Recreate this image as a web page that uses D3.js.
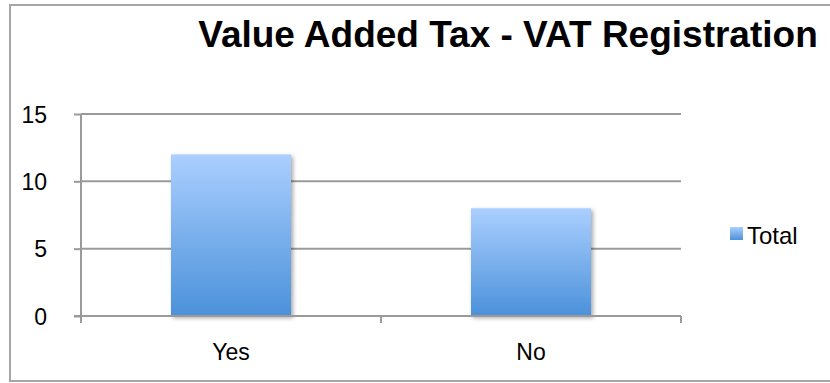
<!DOCTYPE html>
<html>
<head>
<meta charset="utf-8">
<script src="https://cdn.jsdelivr.net/npm/d3@7"></script>
<style>
  html, body { margin: 0; padding: 0; background: #fff; }
  svg text { font-family: "Liberation Sans", Arial, sans-serif; fill: #000; }
</style>
</head>
<body>
<svg id="chart" width="830" height="383"></svg>
<script>
// Data
const categories = ["Yes", "No"];
const totals = [12, 8];
const yTicks = [0, 5, 10, 15];
const seriesName = "Total";
const titleText = "Value Added Tax - VAT Registration";

const svg = d3.select("#chart");
const plot = { left: 81, right: 681, top: 114, bottom: 316 };
const labelSize = 23;

// Outer frame
svg.append("rect")
  .attr("x", 10).attr("y", 5)
  .attr("width", 830).attr("height", 376)
  .attr("fill", "#fff")
  .attr("stroke", "#a6a6a6").attr("stroke-width", 2);

const defs = svg.append("defs");
const grad = defs.append("linearGradient")
  .attr("id", "barGrad").attr("x1", 0).attr("y1", 0).attr("x2", 0).attr("y2", 1);
grad.append("stop").attr("offset", "0%").attr("stop-color", "#abcfff");
grad.append("stop").attr("offset", "100%").attr("stop-color", "#4b91da");

const shadow = defs.append("filter").attr("id", "barShadow")
  .attr("x", "-10%").attr("y", "-10%").attr("width", "130%").attr("height", "130%");
shadow.append("feDropShadow")
  .attr("dx", 2).attr("dy", 2).attr("stdDeviation", 2)
  .attr("flood-color", "#000").attr("flood-opacity", 0.35);

const x = d3.scaleBand().domain(categories).range([plot.left, plot.right])
  .paddingInner(0.6).paddingOuter(0.3);
const y = d3.scaleLinear().domain([0, 15]).range([plot.bottom, plot.top]);

// Gridlines
svg.append("g").selectAll("line").data(yTicks.filter(d => d > 0)).join("line")
  .attr("x1", plot.left).attr("x2", plot.right)
  .attr("y1", d => y(d)).attr("y2", d => y(d))
  .attr("stroke", "#9a9a9a").attr("stroke-width", 2);

// Bars
svg.append("g").selectAll("rect").data(categories).join("rect")
  .attr("x", d => x(d))
  .attr("y", (d, i) => y(totals[i]))
  .attr("width", x.bandwidth())
  .attr("height", (d, i) => y(0) - y(totals[i]))
  .attr("fill", "url(#barGrad)")
  .attr("filter", "url(#barShadow)");

// Y axis
const yAxis = svg.append("g").attr("transform", `translate(${plot.left},0)`)
  .call(d3.axisLeft(y).tickValues(yTicks).tickSize(7).tickPadding(27).tickFormat(d3.format("d")));
yAxis.select(".domain").attr("stroke", "#9a9a9a").attr("stroke-width", 2)
  .attr("d", `M0,${plot.top}V${plot.bottom + 6}`);
yAxis.selectAll(".tick line").attr("stroke", "#9a9a9a").attr("stroke-width", 2);
yAxis.selectAll(".tick text")
  .attr("font-size", labelSize).attr("font-family", "Liberation Sans, Arial, sans-serif").attr("fill", "#000")
  .attr("dy", "0.36em");

// X axis
svg.append("line")
  .attr("x1", plot.left - 7).attr("x2", plot.right)
  .attr("y1", plot.bottom).attr("y2", plot.bottom)
  .attr("stroke", "#9a9a9a").attr("stroke-width", 2);
const bounds = [plot.left].concat(categories.map(c => x(c) + x.bandwidth() / 2 + x.step() / 2));
svg.append("g").selectAll("line").data(bounds).join("line")
  .attr("x1", d => d).attr("x2", d => d)
  .attr("y1", plot.bottom).attr("y2", plot.bottom + 7)
  .attr("stroke", "#9a9a9a").attr("stroke-width", 2);
svg.append("g").selectAll("text").data(categories).join("text")
  .attr("text-anchor", "middle")
  .attr("font-size", labelSize)
  .attr("x", d => x(d) + x.bandwidth() / 2)
  .attr("y", plot.bottom + 44)
  .text(d => d);

// Title
svg.append("text")
  .attr("text-anchor", "middle")
  .attr("font-size", 37).attr("font-weight", "bold")
  .attr("x", 508).attr("y", 47)
  .text(titleText);

// Legend
const lg = svg.append("g").attr("transform", "translate(730,227)");
lg.append("rect").attr("width", 13).attr("height", 13).attr("fill", "url(#barGrad)");
lg.append("text").attr("font-size", 24)
  .attr("x", 17).attr("y", 17)
  .text(seriesName);
</script>
</body>
</html>
